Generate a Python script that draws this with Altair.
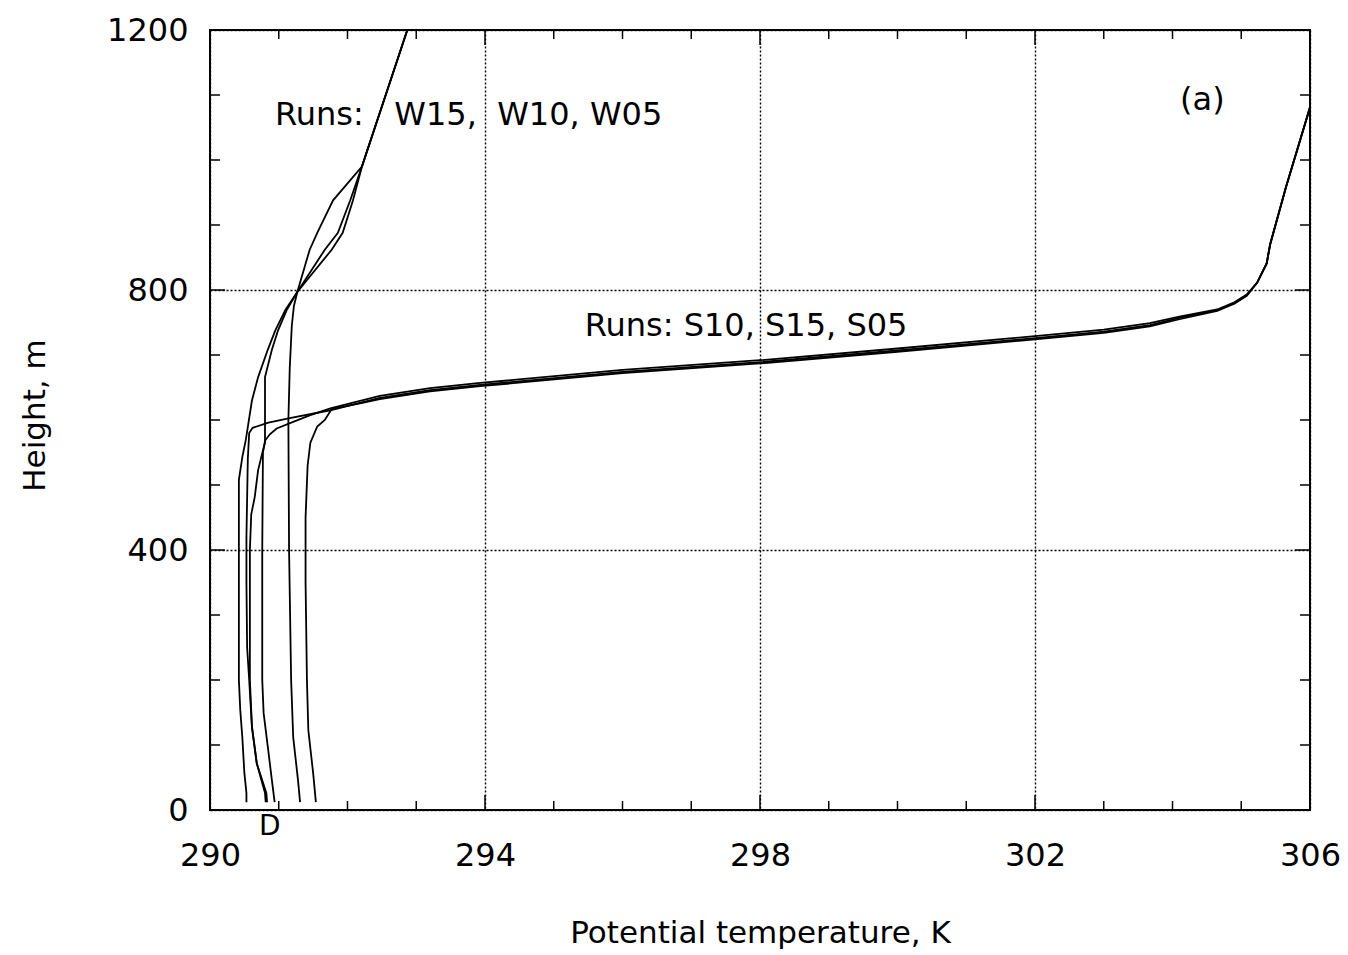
import altair as alt
import pandas as pd

# ---------------- data (potential temperature K, height m) ----------------
W1_T = [290.53, 290.53, 290.50, 290.47, 290.44, 290.42, 290.42, 290.42, 290.42, 290.47, 290.52, 290.55,
        290.61, 290.70, 290.84, 290.95, 291.10, 291.27, 291.77, 291.93, 292.08, 292.21, 292.87]
W1_H = [12, 26, 57, 112, 154, 200, 300, 400, 508, 543, 569, 589,
        630, 666, 708, 738, 770, 797, 862, 888, 938, 990, 1200]

W2_T = [290.81, 290.80, 290.68, 290.61, 290.58, 290.58, 290.58, 290.60, 290.65, 290.70, 290.76, 290.80,
        290.80, 290.80, 290.90, 290.99, 291.12, 291.27, 291.67, 291.86, 292.04, 292.21, 292.87]
W2_H = [12, 26, 72, 128, 200, 300, 400, 455, 481, 523, 549, 565,
        620, 666, 708, 738, 770, 797, 862, 888, 938, 990, 1200]

W3_T = [291.31, 291.28, 291.21, 291.18, 291.15, 291.14, 291.16, 291.19, 291.22, 291.27,
        291.45, 291.56, 291.79, 292.21, 292.87]
W3_H = [12, 46, 112, 200, 400, 600, 680, 745, 775, 797,
        862, 888, 938, 990, 1200]

SA_T = [290.83, 290.82, 290.68, 290.61, 290.57, 290.54, 290.53, 290.53, 290.55, 290.57, 290.62,
        290.85, 291.16, 291.75, 292.47, 293.20, 293.93, 296.00, 298.00, 300.00, 302.00, 303.00,
        303.67, 304.10, 304.65, 304.90, 305.08, 305.23, 305.37, 305.42, 305.65, 306.00]
SA_H = [12, 26, 72, 128, 200, 250, 350, 420, 540, 580, 588,
        596, 603, 615, 634, 646, 654, 674, 689, 707, 726, 736,
        746, 757, 769, 780, 792, 811, 841, 870, 958, 1081]

SB_T = [290.94, 290.90, 290.84, 290.78, 290.76, 290.76, 290.77, 290.80, 290.87, 290.97, 291.21,
        291.45, 291.75, 292.47, 293.20, 293.93, 296.00, 298.00, 300.00, 302.00, 303.00,
        303.67, 304.10, 304.65, 304.90, 305.08, 305.23, 305.37, 305.42, 305.65, 306.00]
SB_H = [12, 46, 98, 149, 200, 400, 550, 568, 578, 587, 597,
        607, 618, 637, 649, 657, 677, 692, 710, 729, 739,
        749, 759, 770, 781, 793, 811, 841, 870, 958, 1081]

SC_T = [291.54, 291.50, 291.43, 291.41, 291.39, 291.39, 291.42, 291.46, 291.56, 291.67, 291.77,
        292.20, 292.47, 293.20, 293.93, 296.00, 298.00, 300.00, 302.00, 303.00,
        303.67, 304.10, 304.65, 304.90, 305.08, 305.23, 305.37, 305.42, 305.65, 306.00]
SC_H = [12, 57, 123, 200, 350, 450, 530, 565, 590, 600, 617,
        626, 632, 644, 652, 672, 687, 705, 724, 734,
        744, 755, 768, 779, 791, 811, 841, 870, 958, 1081]

X_MAJOR = [290, 294, 298, 302, 306]
X_MINOR = [291, 292, 293, 295, 296, 297, 299, 300, 301, 303, 304, 305]
Y_MAJOR = [0, 400, 800, 1200]
Y_MINOR = [100, 200, 300, 500, 600, 700, 900, 1000, 1100]

NOTE_TEXT = ["Runs:\u00a0\u00a0\u00a0W15,\u00a0\u00a0W10,\u00a0W05", "Runs:\u00a0S10,\u00a0S15,\u00a0S05", "(a)"]
NOTE_T = [290.945, 295.45, 304.11]
NOTE_H = [1069, 745, 1092]

D_TEXT = ["D"]
D_T = [290.87]

# ---------------- build tables ----------------
series = [("W15", W1_T, W1_H), ("W10", W2_T, W2_H), ("W05", W3_T, W3_H),
          ("S10", SA_T, SA_H), ("S15", SB_T, SB_H), ("S05", SC_T, SC_H)]
rows = []
for name, ts, hs in series:
    for i, (t, h) in enumerate(zip(ts, hs)):
        rows.append({"run": name, "i": i, "T": t, "h": h})
df = pd.DataFrame(rows)

FONT = "DejaVu Sans"
xs = alt.Scale(domain=[290, 306], nice=False, zero=False)
ys = alt.Scale(domain=[0, 1200], nice=False, zero=False)

X_AXIS = alt.Axis(
    values=X_MAJOR, title="Potential temperature, K", grid=True, gridDash=[2, 2],
    gridColor="black", gridWidth=1.4, gridOpacity=1, ticks=False, tickSize=0, domain=False,
    labelFont=FONT, labelFontSize=32, labelColor="black", labelPadding=30,
    labelBaseline="top", labelFlush=False, labelOverlap=False,
    titleFont=FONT, titleFontSize=31, titleFontWeight="normal",
    titleColor="black", titleX=550, titleY=123, titleBaseline="middle", titleAlign="center",
    format="d")
Y_AXIS = alt.Axis(
    values=Y_MAJOR, title="Height, m", grid=True, gridDash=[2, 2],
    gridColor="black", gridWidth=1.4, gridOpacity=1, ticks=False, tickSize=0, domain=False,
    labelFont=FONT, labelFontSize=32, labelColor="black", labelPadding=22,
    labelFlush=False, labelOverlap=False,
    titleFont=FONT, titleFontSize=31, titleFontWeight="normal", titleColor="black",
    titleX=-175, titleY=385, titleAngle=270, titleBaseline="middle", titleAlign="center",
    format="d")

def X(field="T"):
    return alt.X(f"{field}:Q", scale=xs, axis=X_AXIS)

def Y(field="h"):
    return alt.Y(f"{field}:Q", scale=ys, axis=Y_AXIS)

lines = alt.Chart(df).mark_line(color="black", strokeWidth=1.8, clip=True).encode(
    x=X(), y=Y(), detail="run:N", order="i:Q")

def xticks(vals, length):
    d = pd.DataFrame({"T": vals})
    b = alt.Chart(d).mark_rule(color="black", strokeWidth=1.5).encode(
        x=X(), y=alt.value(780), y2=alt.value(780 - length))
    t = alt.Chart(d).mark_rule(color="black", strokeWidth=1.5).encode(
        x=X(), y=alt.value(0), y2=alt.value(length))
    return [b, t]

def yticks(vals, length):
    d = pd.DataFrame({"h": vals})
    l = alt.Chart(d).mark_rule(color="black", strokeWidth=1.5).encode(
        y=Y(), x=alt.value(0), x2=alt.value(length))
    r = alt.Chart(d).mark_rule(color="black", strokeWidth=1.5).encode(
        y=Y(), x=alt.value(1100), x2=alt.value(1100 - length))
    return [l, r]

tick_layers = xticks(X_MINOR, 9) + xticks(X_MAJOR, 15) + yticks(Y_MINOR, 10) + yticks(Y_MAJOR, 15)

notes = alt.Chart(pd.DataFrame({"T": NOTE_T, "h": NOTE_H, "label": NOTE_TEXT})).mark_text(
    font=FONT, fontSize=32, color="black", align="left", baseline="middle").encode(
    x=X(), y=Y(), text="label:N")

dlab = alt.Chart(pd.DataFrame({"T": D_T, "label": D_TEXT})).mark_text(
    font=FONT, fontSize=28, color="black", align="center", baseline="middle").encode(
    x=X(), y=alt.value(797), text="label:N")

chart = alt.layer(lines, *tick_layers, notes, dlab).properties(
    width=1100, height=780,
    padding={"left": 210, "top": 30, "right": 38, "bottom": 145},
    autosize=alt.AutoSizeParams(type="none"),
    background="white",
).configure_view(stroke="black", strokeWidth=2)

chart.save("out.html", embed_options={"renderer": "svg", "actions": False})
